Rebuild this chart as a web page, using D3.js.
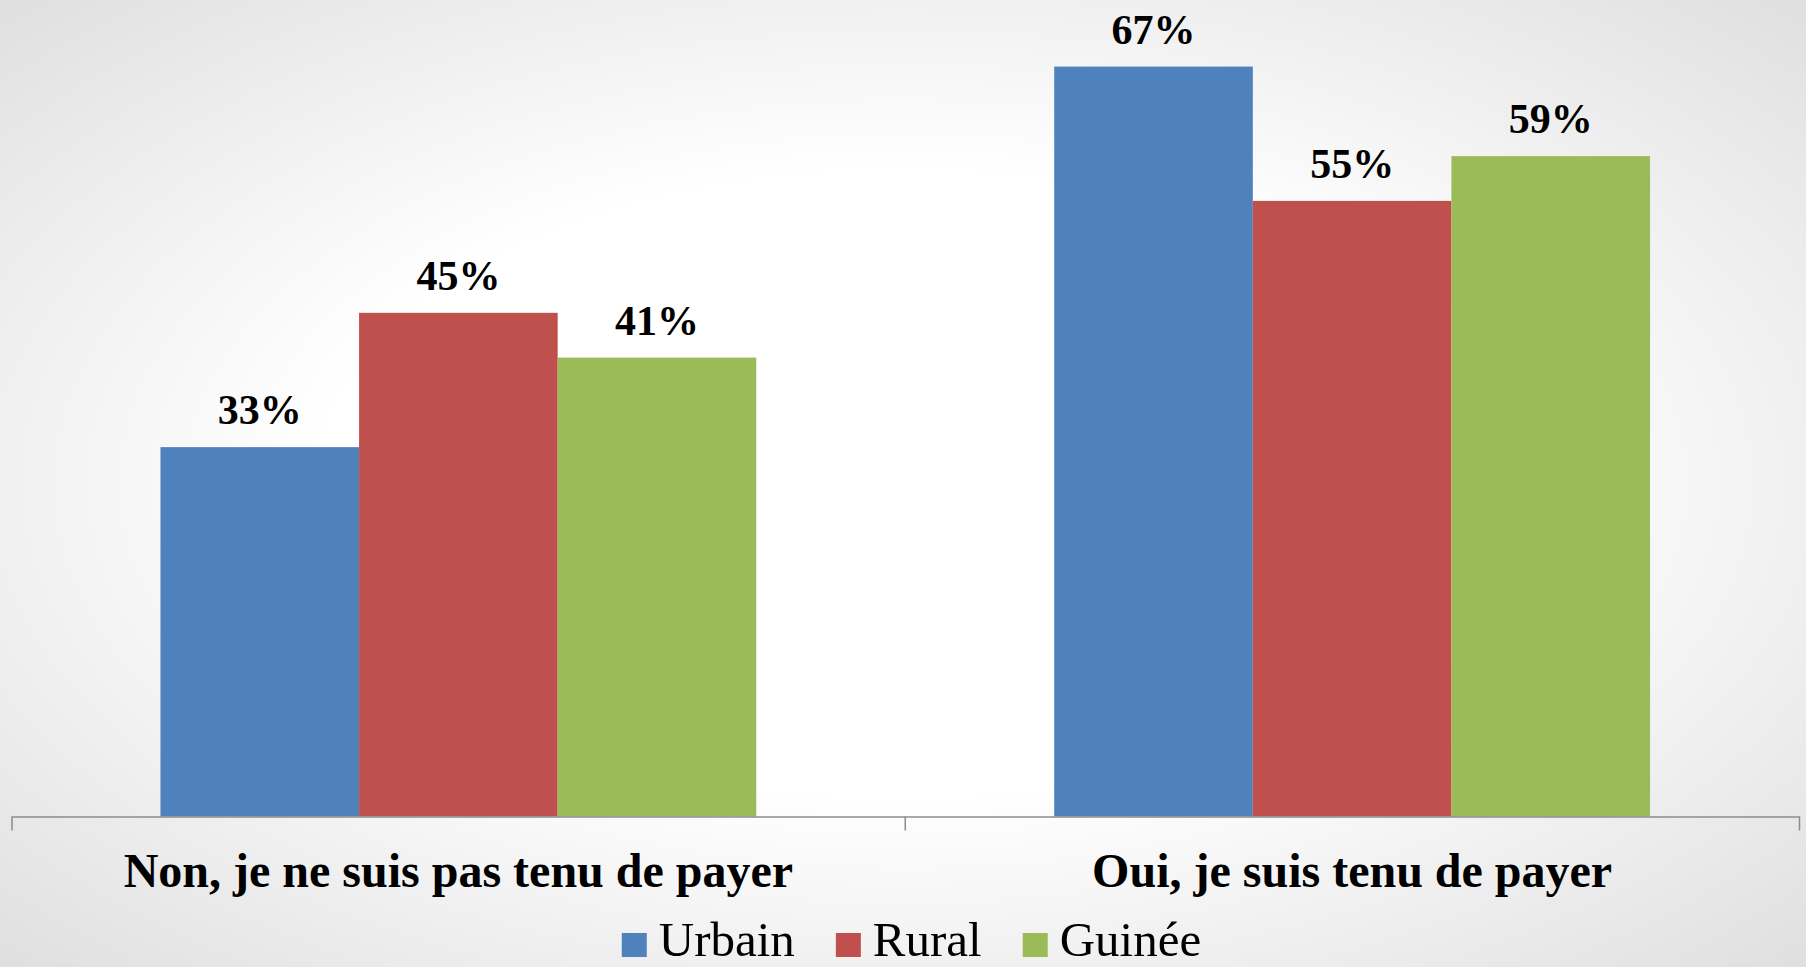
<!DOCTYPE html>
<meta charset="utf-8">
<style>
body { margin: 0; }
.valueLabel { font-family: "Liberation Serif", "Times New Roman", serif; font-weight: bold; font-size: 42px; fill: #000; }
.catAxis text { font-family: "Liberation Serif", "Times New Roman", serif; font-weight: bold; font-size: 48px; fill: #000; }
.legendText { font-family: "Liberation Serif", "Times New Roman", serif; font-size: 49px; fill: #000; }
</style>
<svg id="chart" width="1806" height="967"></svg>
<script src="https://d3js.org/d3.v7.min.js"></script>
<script>

var categories = ["Non, je ne suis pas tenu de payer", "Oui, je suis tenu de payer"];
var seriesNames = ["Urbain", "Rural", "Guinée"];
var urbain = [33, 67];
var rural = [45, 55];
var guinee = [41, 59];
var seriesValues = [urbain, rural, guinee];
var colors = ["#4F81BD", "#C0504D", "#9BBB59"];

var svg = d3.select("#chart"),
    width = +svg.attr("width"),
    height = +svg.attr("height");

// background: white center fading to light grey at the corners
var defs = svg.append("defs");
var grad = defs.append("radialGradient")
  .attr("id", "bg")
  .attr("cx", "50%").attr("cy", "50%").attr("r", "72%");
grad.append("stop").attr("offset", "0%").attr("stop-color", "#ffffff");
grad.append("stop").attr("offset", "45%").attr("stop-color", "#ffffff");
grad.append("stop").attr("offset", "100%").attr("stop-color", "#dedede");
svg.append("rect")
  .attr("width", width).attr("height", height)
  .attr("fill", "url(#bg)");

var baseY = 816.5;

var x0 = d3.scaleBand()
  .domain(categories)
  .range([11.5, 1799])
  .paddingInner(1/3)
  .paddingOuter(1/6);

var x1 = d3.scaleBand()
  .domain(seriesNames)
  .range([0, x0.bandwidth()]);

var y = d3.scaleLinear()
  .domain([0, 70])
  .range([baseY, 33]);

var data = [];
categories.forEach(function(c, i) {
  seriesNames.forEach(function(s, j) {
    data.push({cat: c, series: s, value: seriesValues[j][i], color: colors[j]});
  });
});

var bars = svg.append("g");
bars.selectAll("rect")
  .data(data)
  .enter().append("rect")
    .attr("x", function(d) { return x0(d.cat) + x1(d.series); })
    .attr("y", function(d) { return y(d.value); })
    .attr("width", x1.bandwidth())
    .attr("height", function(d) { return baseY - y(d.value); })
    .attr("fill", function(d) { return d.color; });

bars.selectAll("text")
  .data(data)
  .enter().append("text")
    .attr("class", "valueLabel")
    .attr("x", function(d) { return x0(d.cat) + x1(d.series) + x1.bandwidth() / 2; })
    .attr("y", function(d) { return y(d.value) - 23; })
    .attr("text-anchor", "middle")
    .text(function(d) { return d.value + "%"; });

// category axis
var axis = svg.append("g")
  .attr("class", "catAxis")
  .attr("transform", "translate(0," + baseY + ")")
  .call(d3.axisBottom(x0).tickSize(0).tickSizeOuter(14).tickPadding(36));
axis.select(".domain").attr("stroke", "#8c8c8c").attr("stroke-width", 1.5);

// tick between the two groups
var mid = x0(categories[1]) - x0.step() * x0.paddingInner() / 2;
axis.append("line")
  .attr("x1", mid).attr("x2", mid)
  .attr("y1", 0).attr("y2", 14)
  .attr("stroke", "#8c8c8c").attr("stroke-width", 1.5);

// legend
var legend = svg.append("g").attr("transform", "translate(0,956)");
var items = legend.selectAll("g")
  .data(seriesNames)
  .enter().append("g");
items.append("rect")
  .attr("y", -23)
  .attr("width", 25).attr("height", 24)
  .attr("fill", function(d, i) { return colors[i]; });
items.append("text")
  .attr("class", "legendText")
  .attr("x", 37)
  .text(function(d) { return d; });

var pos = 0;
items.each(function() {
  var w = 37 + d3.select(this).select("text").node().getComputedTextLength();
  d3.select(this).attr("data-x", pos);
  pos += w + 41;
});
var total = pos - 41;
var startX = 911.5 - total / 2;
items.attr("transform", function() {
  return "translate(" + (startX + +d3.select(this).attr("data-x")) + ",0)";
});

</script>
